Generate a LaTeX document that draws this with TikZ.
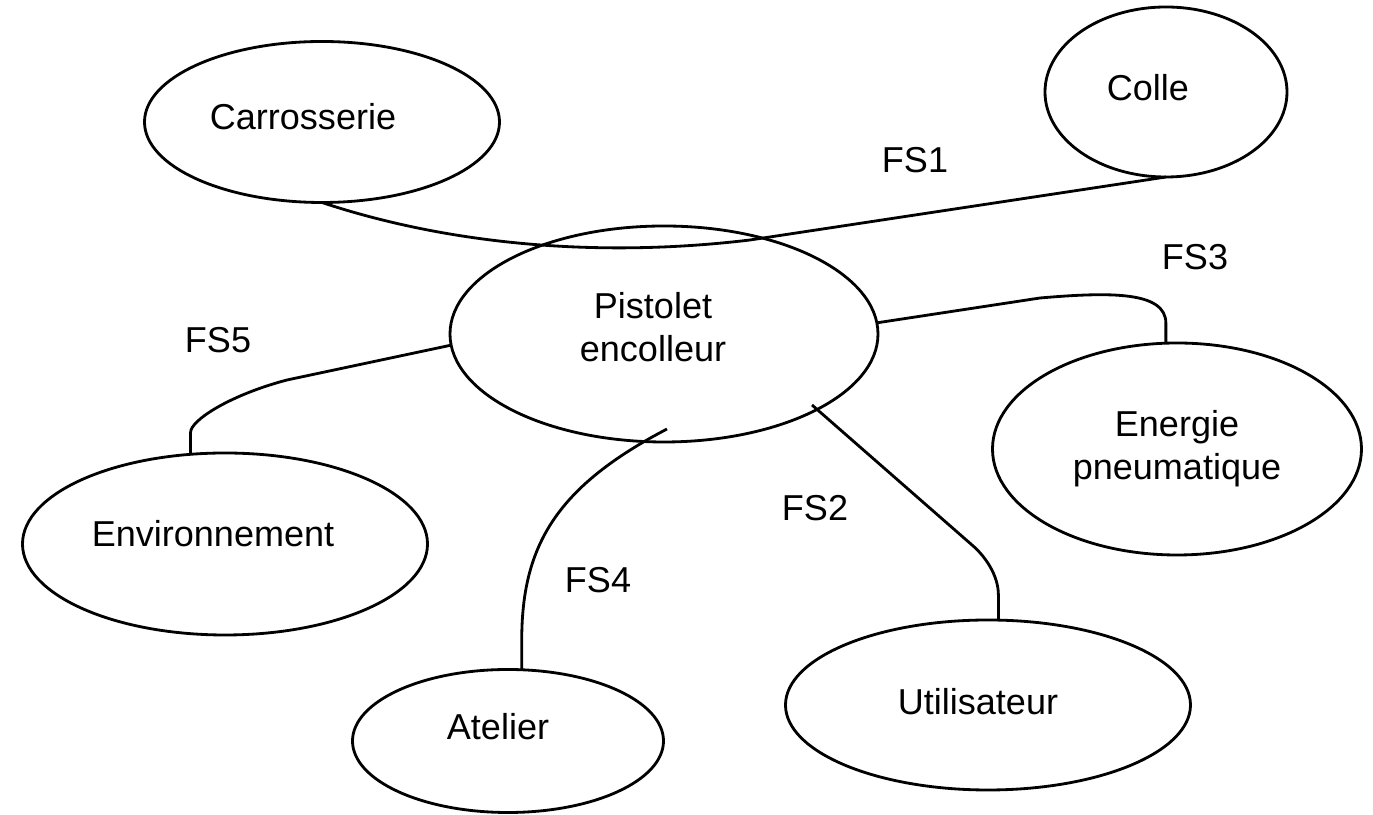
\documentclass[tikz,border=0pt]{standalone}
\usepackage{fontspec}
\setmainfont{Liberation Sans}
\usetikzlibrary{shapes.geometric}

\begin{document}
\begin{tikzpicture}[line width=0.8pt,
        bulle/.style={draw, ellipse, inner sep=0pt, outer sep=0pt},
        txt/.style={font=\fontsize{10.25}{12.3}\selectfont, align=center}]
        \useasboundingbox (0,0) rectangle (13.73,-8.15);

        % les bulles
        \node[bulle, minimum width=3.55cm, minimum height=1.61cm,
              label={[txt, xshift=-0.19cm, yshift=0.05cm]center:Carrosserie}] (carrosserie) at (3.22,-1.22) {};
        \node[bulle, minimum width=2.42cm, minimum height=1.70cm,
              label={[txt, xshift=-0.18cm, yshift=0.04cm]center:Colle}] (colle) at (11.66,-0.92) {};
        \node[bulle, minimum width=4.28cm, minimum height=2.16cm,
              label={[txt, xshift=-0.11cm, yshift=0.07cm]center:Pistolet\\encolleur}] (pistolet) at (6.64,-3.34) {};
        \node[bulle, minimum width=3.69cm, minimum height=2.12cm,
              label={[txt]center:Energie\\pneumatique}] (energie) at (11.77,-4.49) {};
        \node[bulle, minimum width=4.05cm, minimum height=1.82cm,
              label={[txt, xshift=-0.12cm, yshift=0.10cm]center:Environnement}] (environnement) at (2.25,-5.44) {};
        \node[bulle, minimum width=3.11cm, minimum height=1.43cm,
              label={[txt, xshift=-0.10cm, yshift=0.14cm]center:Atelier}] (atelier) at (5.08,-7.41) {};
        \node[bulle, minimum width=4.05cm, minimum height=1.70cm,
              label={[txt, xshift=-0.10cm, yshift=0.03cm]center:Utilisateur}] (utilisateur) at (9.88,-7.05) {};

        \coordinate (p2) at ([shift={(1.48,-0.71)}]pistolet.center);
        \coordinate (p4) at ([shift={(0.03,-0.95)}]pistolet.center);

        % les liaisons
        \draw (carrosserie.south) .. controls (4.5,-2.45) and (6.0,-2.58) .. (7.5,-2.40) -- (colle.south);
        \draw (energie.96) -- ++(0,0.2) .. controls +(0,0.32) and (11.1,-2.92) .. (10.4,-2.98) -- (pistolet.3);
        \draw (environnement.111) -- ++(0,0.22) .. controls +(0,0.12) and (2.3,-3.95) .. (2.87,-3.80) -- (pistolet.183);
        \draw (atelier.79) -- ++(0,0.38) .. controls +(0.02,0.9) and (5.6,-4.85) .. (p4);
        \draw (utilisateur.83) -- ++(0,0.25) .. controls +(0,0.2) and (9.85,-5.56) .. (9.72,-5.45) -- (p2);

        % fonctions
        \node[txt] (fs1) at (9.15,-1.60) {FS1};
        \node[txt] (fs2) at (8.15,-5.08) {FS2};
        \node[txt] (fs3) at (11.95,-2.57) {FS3};
        \node[txt] (fs4) at (5.98,-5.80) {FS4};
        \node[txt] (fs5) at (2.18,-3.40) {FS5};
\end{tikzpicture}
\end{document}
